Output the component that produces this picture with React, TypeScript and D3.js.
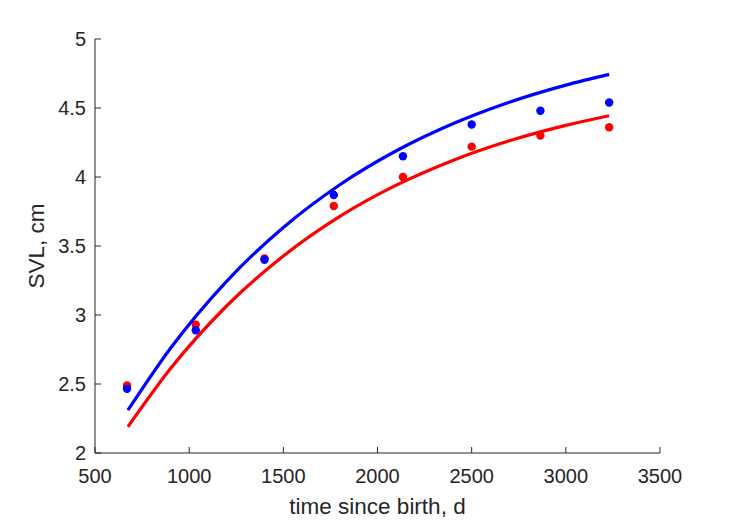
import React from "react";
import * as d3 from "d3";

const W = 729;
const H = 521;

const xTicks = [500, 1000, 1500, 2000, 2500, 3000, 3500];
const yTicks = [2, 2.5, 3, 3.5, 4, 4.5, 5];

const obsTimes = [670, 1035, 1400, 1768, 2135, 2500, 2865, 3230];
const redObs = [2.49, 2.93, 3.41, 3.79, 4.0, 4.22, 4.3, 4.36];
const blueObs = [2.465, 2.89, 3.4, 3.87, 4.15, 4.38, 4.48, 4.54];

const curveTimes = [675, 900, 1200, 1500, 1800, 2100, 2400, 2700, 3000, 3230];
const redCurve = [2.19, 2.61, 3.067, 3.428, 3.715, 3.941, 4.12, 4.262, 4.374, 4.444];
const blueCurve = [2.31, 2.757, 3.246, 3.634, 3.944, 4.19, 4.386, 4.542, 4.666, 4.744];

const margin = { left: 95, right: 729 - 660, top: 39, bottom: 521 - 453 };

export default function App() {
  const x = d3.scaleLinear().domain([500, 3500]).range([margin.left, W - margin.right]);
  const y = d3.scaleLinear().domain([2, 5]).range([H - margin.bottom, margin.top]);
  const mk = (vals: number[]) =>
    d3
      .line<number>()
      .x((_, i) => x(curveTimes[i]))
      .y((d) => y(d))
      .curve(d3.curveMonotoneX)(vals) || "";
  const redLine = mk(redCurve);
  const blueLine = mk(blueCurve);

  const axisColor = "#262626";
  const font = "'Liberation Sans', Arial, Helvetica, sans-serif";
  const x0 = x(500);
  const y0 = y(2);

  return (
    <svg
      width={W}
      height={H}
      style={{ position: "absolute", left: 0, top: 0, background: "#fff" }}
      fontFamily={font}
    >
      <rect x={0} y={0} width={W} height={H} fill="#fff" />
      <line x1={x0} x2={x(3500)} y1={y0} y2={y0} stroke={axisColor} strokeWidth={1} />
      <line x1={x0} x2={x0} y1={y0} y2={y(5)} stroke={axisColor} strokeWidth={1} />
      {xTicks.map((t) => (
        <g key={"xt" + t}>
          <line x1={x(t)} x2={x(t)} y1={y0} y2={y0 - 6} stroke={axisColor} />
          <text x={x(t)} y={483} textAnchor="middle" fontSize={20} fill={axisColor}>
            {t}
          </text>
        </g>
      ))}
      {yTicks.map((t) => (
        <g key={"yt" + t}>
          <line x1={x0} x2={x0 + 6} y1={y(t)} y2={y(t)} stroke={axisColor} />
          <text
            x={x0 - 9}
            y={y(t)}
            dy="0.35em"
            textAnchor="end"
            fontSize={20}
            fill={axisColor}
          >
            {t}
          </text>
        </g>
      ))}
      <text x={(x0 + x(3500)) / 2} y={514} textAnchor="middle" fontSize={22.5} fill={axisColor}>
        time since birth, d
      </text>
      <text
        transform={`translate(44, ${(y(2) + y(5)) / 2}) rotate(-90)`}
        textAnchor="middle"
        fontSize={22.5}
        fill={axisColor}
      >
        SVL, cm
      </text>

      {obsTimes.map((t, i) => (
        <circle key={"r" + i} cx={x(t)} cy={y(redObs[i])} r={4.2} fill="#ff0000" />
      ))}
      <path d={redLine} fill="none" stroke="#ff0000" strokeWidth={3.2} />
      {obsTimes.map((t, i) => (
        <circle key={"b" + i} cx={x(t)} cy={y(blueObs[i])} r={4.2} fill="#0000ff" />
      ))}
      <path d={blueLine} fill="none" stroke="#0000ff" strokeWidth={3.2} />
    </svg>
  );
}
